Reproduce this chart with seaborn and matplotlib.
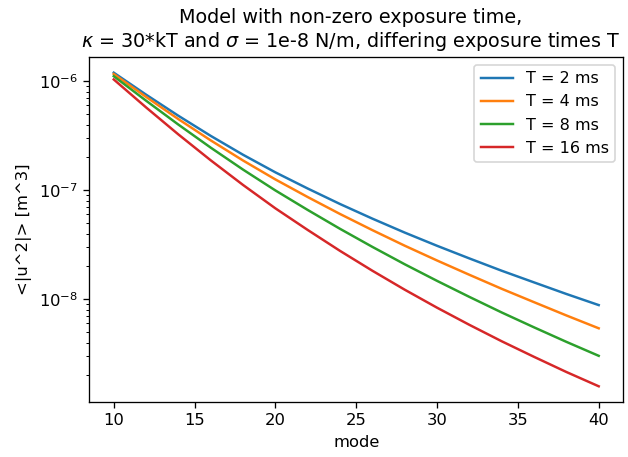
import numpy as np
import pandas as pd
import matplotlib
matplotlib.use("Agg")
import matplotlib.pyplot as plt
import seaborn as sns

modes = [10, 12, 14, 16, 18, 20, 22, 24, 26, 28, 30, 32, 34, 36, 38, 40]
labels = ["T = 2 ms", "T = 4 ms", "T = 8 ms", "T = 16 ms"]
u2_T2 = [1.200e-6, 7.543e-7, 4.826e-7, 3.157e-7, 2.118e-7, 1.461e-7, 1.038e-7, 7.482e-8,
         5.495e-8, 4.093e-8, 3.097e-8, 2.371e-8, 1.828e-8, 1.429e-8, 1.119e-8, 8.85e-9]
u2_T4 = [1.167e-6, 7.19e-7, 4.497e-7, 2.870e-7, 1.876e-7, 1.258e-7, 8.67e-8, 6.06e-8,
         4.31e-8, 3.103e-8, 2.270e-8, 1.678e-8, 1.248e-8, 9.41e-9, 7.11e-9, 5.42e-9]
u2_T8 = [1.114e-6, 6.64e-7, 4.005e-7, 2.462e-7, 1.548e-7, 9.97e-8, 6.60e-8, 4.43e-8,
         3.026e-8, 2.096e-8, 1.476e-8, 1.052e-8, 7.57e-9, 5.53e-9, 4.07e-9, 3.03e-9]
u2_T16 = [1.040e-6, 5.76e-7, 3.254e-7, 1.884e-7, 1.119e-7, 6.83e-8, 4.325e-8, 2.780e-8,
          1.828e-8, 1.225e-8, 8.375e-9, 5.83e-9, 4.12e-9, 2.965e-9, 2.153e-9, 1.592e-9]

series = [u2_T2, u2_T4, u2_T8, u2_T16]
df = pd.concat(
    [pd.DataFrame({"mode": modes, "u2": vals, "T": lab}) for lab, vals in zip(labels, series)],
    ignore_index=True,
)

DPI = 118
fig = plt.figure(figsize=(628 / DPI, 457 / DPI), dpi=DPI)
ax = fig.add_axes([0.1425, 0.1204, 0.992 - 0.1425, 0.8753 - 0.1204])
sns.lineplot(data=df, x="mode", y="u2", hue="T", hue_order=labels,
             palette=["#1f77b4", "#ff7f0e", "#2ca02c", "#d62728"], ax=ax, linewidth=1.5)
ax.set_yscale("log")
ax.set_xticks([10, 15, 20, 25, 30, 35, 40])
ax.set_xlabel("mode")
ax.set_ylabel("<|u^2|> [m^3]")
ax.set_title("Model with non-zero exposure time,\n"
             r"$\kappa$ = 30*kT and $\sigma$ = 1e-8 N/m, differing exposure times T",
             fontsize=11.7, x=0.49)
handles, labs = ax.get_legend_handles_labels()
ax.legend(handles, labs, loc="upper right", fontsize=9.8)
fig.savefig("out.png", dpi=DPI)
